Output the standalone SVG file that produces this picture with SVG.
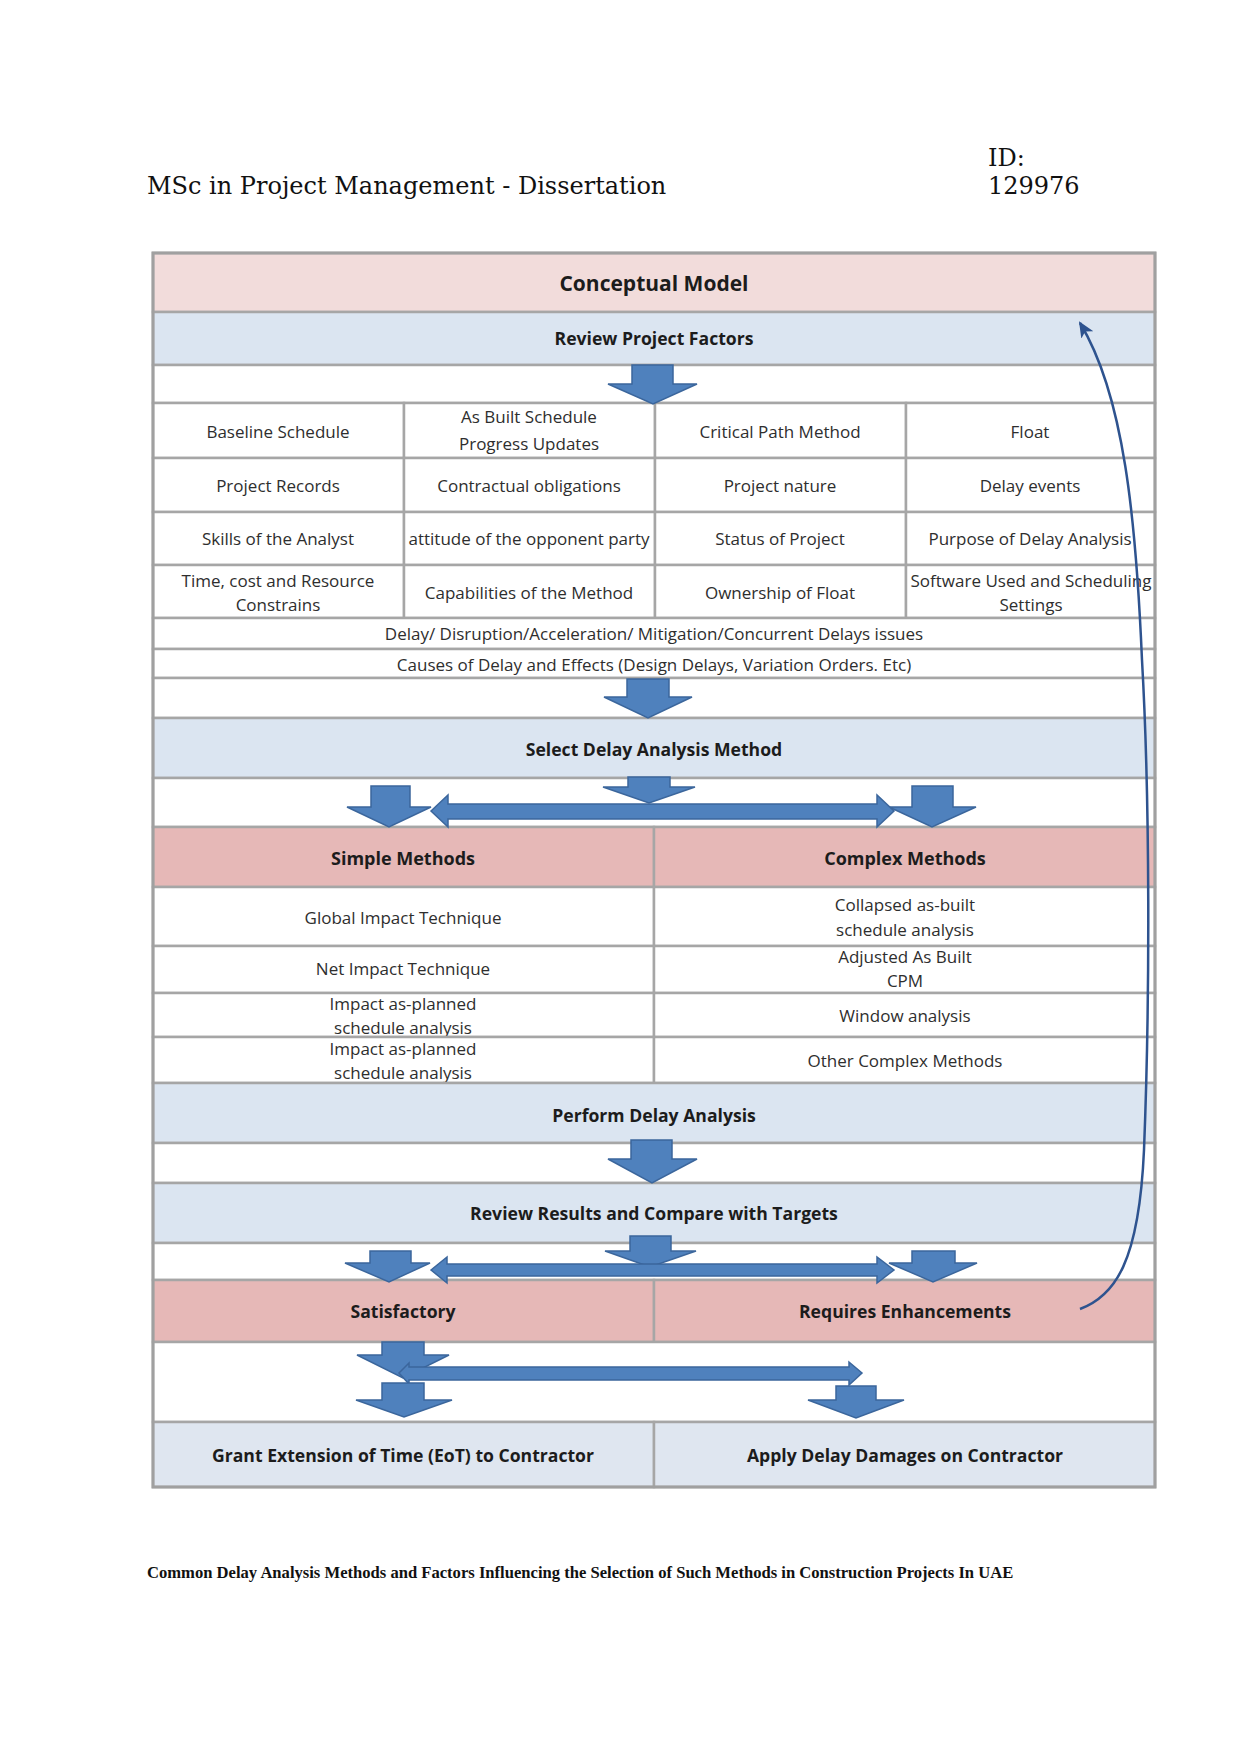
<svg xmlns="http://www.w3.org/2000/svg" width="1241" height="1754" viewBox="0 0 1241 1754">
<style>
.page{fill:#ffffff}
.hdr{font-family:"DejaVu Serif",serif;font-size:24px;fill:#111}
.cap{font-family:"Liberation Serif","Times New Roman",serif;font-size:16.6px;font-weight:bold;fill:#111}
.c{stroke:#a6a6a6;stroke-width:2.5}
.w{fill:#ffffff}
.pk{fill:#f2dcdb}
.pk2{fill:#e6b8b7}
.bl{fill:#dbe5f1}
.bg{fill:#dfe6f0}
.t{font-family:"Open Sans","Liberation Sans",sans-serif;font-size:17px;fill:#2e2e2e;text-anchor:middle}
.b{font-family:"Open Sans","Liberation Sans",sans-serif;font-size:17.6px;font-weight:bold;fill:#1c1c1c;text-anchor:middle}
.ar{fill:#4f81bd;stroke:#3b669c;stroke-width:1.5;stroke-linejoin:miter}
.loop{fill:none;stroke:#2e538f;stroke-width:2.5}
</style>
<defs>
<marker id="ah" viewBox="0 0 16 14" refX="14" refY="7" markerWidth="16" markerHeight="14" markerUnits="userSpaceOnUse" orient="auto">
<path d="M0,0 L16,7 L0,14 L4,7 Z" fill="#2e538f"/>
</marker>
</defs>
<rect class="page" x="0" y="0" width="1241" height="1754"/>
<text class="hdr" x="147" y="194">MSc in Project Management - Dissertation</text>
<text class="hdr" x="988" y="166">ID:</text>
<text class="hdr" x="988" y="194">129976</text>

<g id="conceptual-model"><rect class="c pk" x="153" y="253" width="1002" height="59"/><text class="b" x="654" y="291" style="font-size:21px">Conceptual Model</text></g>
<g id="review-project-factors"><rect class="c bl" x="153" y="312" width="1002" height="53"/><text class="b" x="654" y="345">Review Project Factors</text></g>
<g id="spacer-1"><rect class="c w" x="153" y="365" width="1002" height="38"/></g>

<g id="baseline-schedule"><rect class="c w" x="153" y="403" width="251" height="55"/><text class="t" x="278" y="438">Baseline Schedule</text></g>
<g id="as-built-schedule"><rect class="c w" x="404" y="403" width="251" height="55"/><text class="t" x="529" y="423">As Built Schedule</text><text class="t" x="529" y="450">Progress Updates</text></g>
<g id="critical-path-method"><rect class="c w" x="655" y="403" width="251" height="55"/><text class="t" x="780" y="438">Critical Path Method</text></g>
<g id="float"><rect class="c w" x="906" y="403" width="249" height="55"/><text class="t" x="1030" y="438">Float</text></g>

<g id="project-records"><rect class="c w" x="153" y="458" width="251" height="54"/><text class="t" x="278" y="492">Project Records</text></g>
<g id="contractual-obligations"><rect class="c w" x="404" y="458" width="251" height="54"/><text class="t" x="529" y="492">Contractual obligations</text></g>
<g id="project-nature"><rect class="c w" x="655" y="458" width="251" height="54"/><text class="t" x="780" y="492">Project nature</text></g>
<g id="delay-events"><rect class="c w" x="906" y="458" width="249" height="54"/><text class="t" x="1030" y="492">Delay events</text></g>

<g id="skills-of-analyst"><rect class="c w" x="153" y="512" width="251" height="53"/><text class="t" x="278" y="545">Skills of the Analyst</text></g>
<g id="attitude-opponent"><rect class="c w" x="404" y="512" width="251" height="53"/><text class="t" x="529" y="545">attitude of the opponent party</text></g>
<g id="status-of-project"><rect class="c w" x="655" y="512" width="251" height="53"/><text class="t" x="780" y="545">Status of Project</text></g>
<g id="purpose-delay-analysis"><rect class="c w" x="906" y="512" width="249" height="53"/><text class="t" x="1030" y="545">Purpose of Delay Analysis</text></g>

<g id="time-cost-resource"><rect class="c w" x="153" y="565" width="251" height="53"/><text class="t" x="278" y="587">Time, cost and Resource</text><text class="t" x="278" y="611">Constrains</text></g>
<g id="capabilities-method"><rect class="c w" x="404" y="565" width="251" height="53"/><text class="t" x="529" y="599">Capabilities of the Method</text></g>
<g id="ownership-float"><rect class="c w" x="655" y="565" width="251" height="53"/><text class="t" x="780" y="599">Ownership of Float</text></g>
<g id="software-used"><rect class="c w" x="906" y="565" width="249" height="53"/><text class="t" x="1031" y="587">Software Used and Scheduling</text><text class="t" x="1031" y="611">Settings</text></g>

<g id="delay-issues"><rect class="c w" x="153" y="618" width="1002" height="31"/><text class="t" x="654" y="640">Delay/ Disruption/Acceleration/ Mitigation/Concurrent Delays issues</text></g>
<g id="causes-of-delay"><rect class="c w" x="153" y="649" width="1002" height="29"/><text class="t" x="654" y="671">Causes of Delay and Effects (Design Delays, Variation Orders. Etc)</text></g>
<g id="spacer-2"><rect class="c w" x="153" y="678" width="1002" height="40"/></g>

<g id="select-method"><rect class="c bl" x="153" y="718" width="1002" height="60"/><text class="b" x="654" y="756">Select Delay Analysis Method</text></g>
<g id="spacer-3"><rect class="c w" x="153" y="778" width="1002" height="49"/></g>

<g id="simple-methods"><rect class="c pk2" x="153" y="827" width="501" height="60"/><text class="b" x="403" y="865" style="font-size:18px">Simple Methods</text></g>
<g id="complex-methods"><rect class="c pk2" x="654" y="827" width="501" height="60"/><text class="b" x="905" y="865" style="font-size:18px">Complex Methods</text></g>

<g id="global-impact"><rect class="c w" x="153" y="887" width="501" height="59"/><text class="t" x="403" y="924">Global Impact Technique</text></g>
<g id="collapsed-as-built"><rect class="c w" x="654" y="887" width="501" height="59"/><text class="t" x="905" y="911">Collapsed as-built</text><text class="t" x="905" y="936">schedule analysis</text></g>
<g id="net-impact"><rect class="c w" x="153" y="946" width="501" height="47"/><text class="t" x="403" y="975">Net Impact Technique</text></g>
<g id="adjusted-as-built"><rect class="c w" x="654" y="946" width="501" height="47"/><text class="t" x="905" y="963">Adjusted As Built</text><text class="t" x="905" y="987">CPM</text></g>
<g id="impact-as-planned-1"><rect class="c w" x="153" y="993" width="501" height="44"/><text class="t" x="403" y="1010">Impact as-planned</text><text class="t" x="403" y="1034">schedule analysis</text></g>
<g id="window-analysis"><rect class="c w" x="654" y="993" width="501" height="44"/><text class="t" x="905" y="1022">Window analysis</text></g>
<g id="impact-as-planned-2"><rect class="c w" x="153" y="1037" width="501" height="46"/><text class="t" x="403" y="1055">Impact as-planned</text><text class="t" x="403" y="1079">schedule analysis</text></g>
<g id="other-complex"><rect class="c w" x="654" y="1037" width="501" height="46"/><text class="t" x="905" y="1067">Other Complex Methods</text></g>

<g id="perform-delay-analysis"><rect class="c bl" x="153" y="1083" width="1002" height="60"/><text class="b" x="654" y="1122">Perform Delay Analysis</text></g>
<g id="spacer-4"><rect class="c w" x="153" y="1143" width="1002" height="40"/></g>
<g id="review-results"><rect class="c bl" x="153" y="1183" width="1002" height="60"/><text class="b" x="654" y="1220">Review Results and Compare with Targets</text></g>
<g id="spacer-5"><rect class="c w" x="153" y="1243" width="1002" height="37"/></g>
<g id="satisfactory"><rect class="c pk2" x="153" y="1280" width="501" height="62"/><text class="b" x="403" y="1318">Satisfactory</text></g>
<g id="requires-enhancements"><rect class="c pk2" x="654" y="1280" width="501" height="62"/><text class="b" x="905" y="1318">Requires Enhancements</text></g>
<g id="spacer-6"><rect class="c w" x="153" y="1342" width="1002" height="80"/></g>
<g id="grant-eot"><rect class="c bg" x="153" y="1422" width="501" height="65"/><text class="b" x="403" y="1462">Grant Extension of Time (EoT) to Contractor</text></g>
<g id="apply-damages"><rect class="c bg" x="654" y="1422" width="501" height="65"/><text class="b" x="905" y="1462">Apply Delay Damages on Contractor</text></g>
<rect x="153" y="253" width="1002" height="1234" fill="none" stroke="#a0a0a0" stroke-width="3"/>

<g id="connectors">
<polygon class="ar" points="632,365 673,365 673,384 697,384 653,404 608,384 632,384"/>
<polygon class="ar" points="627,679 669,679 669,697 692,697 648,718 604,697 627,697"/>
<polygon class="ar" points="628,777 670,777 670,787 695,787 649,803 603,787 628,787"/>
<polygon class="ar" points="371,786 410,786 410,807 431,807 389,827 347,807 371,807"/>
<polygon class="ar" points="912,786 953,786 953,807 976,807 932,827 889,807 912,807"/>
<polygon class="ar" points="431,811 448,795 448,804 877,804 877,795 894,811 877,827 877,819 448,819 448,827"/>
<polygon class="ar" points="631,1140 672,1140 672,1159 697,1159 652,1183 608,1159 631,1159"/>
<polygon class="ar" points="630,1236 671,1236 671,1251 696,1251 650,1267 605,1251 630,1251"/>
<polygon class="ar" points="370,1251 411,1251 411,1263 430,1263 389,1282 345,1263 370,1263"/>
<polygon class="ar" points="912,1251 955,1251 955,1263 977,1263 933,1282 889,1263 912,1263"/>
<polygon class="ar" points="431,1270 447,1257 447,1264 877,1264 877,1257 894,1270 877,1283 877,1276 447,1276 447,1283"/>
<polygon class="ar" points="382,1342 424,1342 424,1355 449,1355 403,1378 357,1355 382,1355"/>
<polygon class="ar" points="399,1373 409,1363 409,1367 849,1367 849,1362 862,1373 849,1385 849,1380 409,1380 409,1384"/>
<polygon class="ar" points="382,1383 424,1383 424,1400 452,1400 404,1417 356,1400 382,1400"/>
<polygon class="ar" points="836,1386 876,1386 876,1400 904,1400 856,1418 808,1400 836,1400"/>
<path class="loop" marker-end="url(#ah)" d="M1080,1309 C1115,1296 1139,1262 1144,1150 C1150,1000 1150,800 1142,660 C1136,520 1124,395 1080,323"/>
</g>

<text class="cap" x="147" y="1578">Common Delay Analysis Methods and Factors Influencing the Selection of Such Methods in Construction Projects In UAE</text>
</svg>
